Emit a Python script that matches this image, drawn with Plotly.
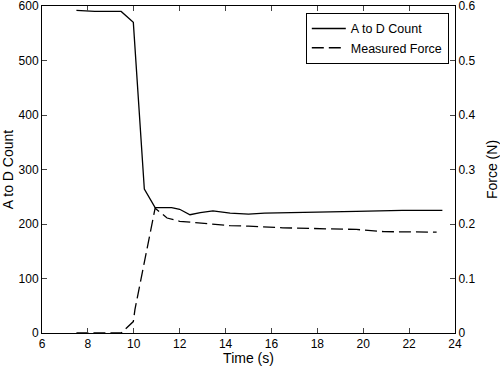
import plotly.graph_objects as go

# A to D count series
t_adc = [7.5, 8.3, 9.45, 9.98, 10.46, 10.93, 11.65, 12.0, 12.45, 12.9, 13.45, 14.2, 15.0, 15.7, 19.7, 21.7, 23.45]
adc = [592, 590, 590, 570, 264, 230, 230, 227, 217, 221, 224, 220, 218, 220, 223, 225, 225]

# Measured force series (N)
t_force = [7.5, 9.45, 9.98, 10.05, 10.93, 11.45, 12.0, 12.9, 14.2, 15.0, 16.5, 19.7, 20.9, 23.2]
force = [0.0, 0.0, 0.021, 0.043, 0.229, 0.211, 0.205, 0.202, 0.197, 0.196, 0.193, 0.190, 0.186, 0.185]

x_ticks = [6, 8, 10, 12, 14, 16, 18, 20, 22, 24]
y_ticks = [0, 100, 200, 300, 400, 500, 600]
y2_ticks = [0, 0.1, 0.2, 0.3, 0.4, 0.5, 0.6]
y2_labels = ["0", "0.1", "0.2", "0.3", "0.4", "0.5", "0.6"]

font = dict(family="Liberation Sans, Arial, sans-serif", size=12, color="black")

fig = go.Figure()
fig.add_trace(go.Scatter(x=t_adc, y=adc, mode="lines", name="A to D Count",
                         line=dict(color="black", width=1.3)))
fig.add_trace(go.Scatter(x=t_force, y=force, mode="lines", name="Measured Force",
                         yaxis="y2", line=dict(color="black", width=1.3, dash="12px,5px")))

fig.update_layout(
    width=500, height=366,
    margin=dict(l=42, r=45, t=6, b=33, autoexpand=False),
    paper_bgcolor="white", plot_bgcolor="white",
    font=font,
    showlegend=True,
    legend=dict(x=0.985, y=0.979, xanchor="right", yanchor="top",
                bordercolor="black", borderwidth=1, bgcolor="white",
                font=dict(size=12.5), tracegroupgap=0, itemwidth=34),
    xaxis=dict(range=[6, 24], tickvals=x_ticks, ticks="inside", ticklen=5,
               showline=True, linecolor="black", linewidth=1, mirror="ticks",
               showgrid=False, zeroline=False, automargin=False,
               ticklabeloverflow="allow",
               title=dict(text="Time (s)", standoff=2)),
    yaxis=dict(range=[0, 600], tickvals=y_ticks, ticks="inside", ticklen=5,
               showline=True, linecolor="black", linewidth=1,
               showgrid=False, zeroline=False, automargin=False,
               ticklabeloverflow="allow",
               title=dict(text="A to D Count", standoff=4)),
    yaxis2=dict(range=[0, 0.6], tickvals=y2_ticks, ticktext=y2_labels,
                overlaying="y", side="right", ticks="inside", ticklen=5,
                showline=True, linecolor="black", linewidth=1,
                showgrid=False, zeroline=False, automargin=False,
                ticklabeloverflow="allow",
                title=dict(text="Force (N)", standoff=14)),
)

fig.write_html("out.html", config={"displayModeBar": False},
               post_script="document.body.style.margin='0';")
